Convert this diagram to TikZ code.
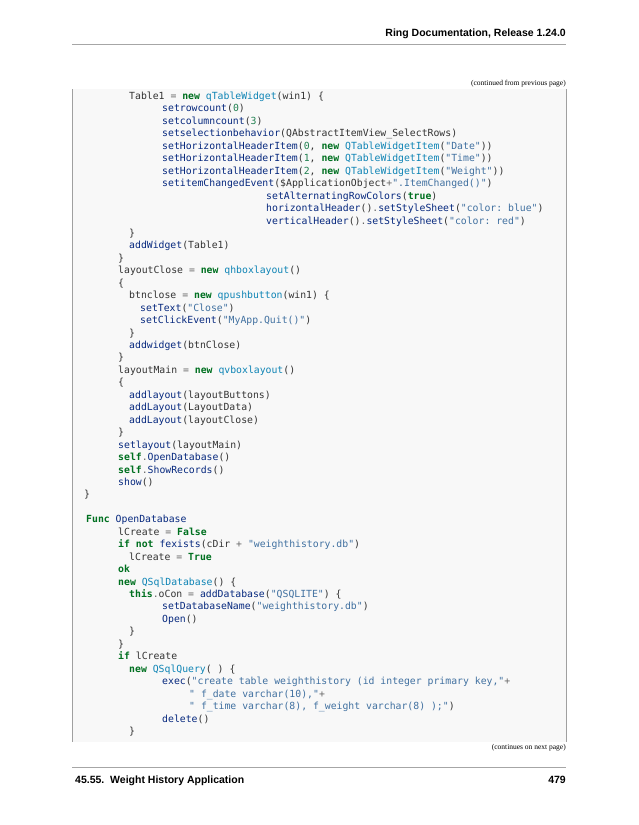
\documentclass[tikz,border=0pt]{standalone}
\usepackage{fontspec}
\setmainfont{Liberation Serif}
\setsansfont{Liberation Sans}
\setmonofont{DejaVu Sans Mono}
\definecolor{kw}{HTML}{007020}
\definecolor{fn}{HTML}{06287E}
\definecolor{cls}{HTML}{0E84B5}
\definecolor{str}{HTML}{4070A0}
\definecolor{num}{HTML}{208050}
\definecolor{op}{HTML}{666666}
\definecolor{txt}{HTML}{333333}
\definecolor{codebg}{HTML}{F8F8F8}
\definecolor{bord}{HTML}{A0A0A0}
\newcommand\K[1]{\textcolor{kw}{\bfseries #1}}
\newcommand\F[1]{\textcolor{fn}{#1}}
\newcommand\C[1]{\textcolor{cls}{#1}}
\newcommand\Sx[1]{\textcolor{str}{#1}}
\newcommand\Nx[1]{\textcolor{num}{#1}}
\newcommand\Ox[1]{\textcolor{op}{#1}}
\newcommand\codeln[3]{\node[codetxt] (l#1) at (#2, {-(99.5+12.45*(#1-1))}) {#3};}
\begin{document}
\begin{tikzpicture}[x=1pt,y=1pt,
  codetxt/.style={anchor=base west,inner sep=0pt,font=\fontsize{9.8}{11}\ttfamily,text=txt},
  small/.style={inner sep=0pt,font=\fontsize{7.5}{9}\selectfont},
  hdr/.style={inner sep=0pt,font=\fontsize{10.5}{12}\sffamily\bfseries}]
\useasboundingbox (0,0) rectangle (638,-825);
\node[hdr,anchor=base east] (head) at (566,-36) {Ring Documentation, Release 1.24.0};
\draw[gray!70,line width=0.6pt] (72,-44) -- (566,-44);
\node[small,anchor=base east] (cont) at (566,-85) {(continued from previous page)};
\fill[codebg] (72,-89) rectangle (566,-742);
\draw[bord,line width=1pt] (72,-89) -- (72,-742);
\draw[bord,line width=1pt] (566,-89) -- (566,-742);
\codeln{1}{129}{Table1 \Ox{=} \K{new} \C{qTableWidget}(win1) \{}
\codeln{2}{162}{\F{setrowcount}(\Nx{0})}
\codeln{3}{162}{\F{setcolumncount}(\Nx{3})}
\codeln{4}{162}{\F{setselectionbehavior}(QAbstractItemView\_SelectRows)}
\codeln{5}{162}{\F{setHorizontalHeaderItem}(\Nx{0}, \K{new} \C{QTableWidgetItem}(\Sx{"Date"}))}
\codeln{6}{162}{\F{setHorizontalHeaderItem}(\Nx{1}, \K{new} \C{QTableWidgetItem}(\Sx{"Time"}))}
\codeln{7}{162}{\F{setHorizontalHeaderItem}(\Nx{2}, \K{new} \C{QTableWidgetItem}(\Sx{"Weight"}))}
\codeln{8}{162}{\F{setitemChangedEvent}(\textdollar ApplicationObject\Ox{+}\Sx{".ItemChanged()"})}
\codeln{9}{266}{\F{setAlternatingRowColors}(\K{true})}
\codeln{10}{266}{\F{horizontalHeader}()\Ox{.}\F{setStyleSheet}(\Sx{"color: blue"})}
\codeln{11}{266}{\F{verticalHeader}()\Ox{.}\F{setStyleSheet}(\Sx{"color: red"})}
\codeln{12}{129}{\}}
\codeln{13}{129}{\F{addWidget}(Table1)}
\codeln{14}{118}{\}}
\codeln{15}{118}{layoutClose \Ox{=} \K{new} \C{qhboxlayout}()}
\codeln{16}{118}{\{}
\codeln{17}{129}{btnclose \Ox{=} \K{new} \C{qpushbutton}(win1) \{}
\codeln{18}{140}{\F{setText}(\Sx{"Close"})}
\codeln{19}{140}{\F{setClickEvent}(\Sx{"MyApp.Quit()"})}
\codeln{20}{129}{\}}
\codeln{21}{129}{\F{addwidget}(btnClose)}
\codeln{22}{118}{\}}
\codeln{23}{118}{layoutMain \Ox{=} \K{new} \C{qvboxlayout}()}
\codeln{24}{118}{\{}
\codeln{25}{129}{\F{addlayout}(layoutButtons)}
\codeln{26}{129}{\F{addLayout}(LayoutData)}
\codeln{27}{129}{\F{addLayout}(layoutClose)}
\codeln{28}{118}{\}}
\codeln{29}{118}{\F{setlayout}(layoutMain)}
\codeln{30}{118}{\K{self}\Ox{.}\F{OpenDatabase}()}
\codeln{31}{118}{\K{self}\Ox{.}\F{ShowRecords}()}
\codeln{32}{118}{\F{show}()}
\codeln{33}{84}{\}}
\codeln{35}{86}{\K{Func} \F{OpenDatabase}}
\codeln{36}{118}{lCreate \Ox{=} \K{False}}
\codeln{37}{118}{\K{if} \K{not} \F{fexists}(cDir \Ox{+} \Sx{"weighthistory.db"})}
\codeln{38}{129}{lCreate \Ox{=} \K{True}}
\codeln{39}{118}{\K{ok}}
\codeln{40}{118}{\K{new} \C{QSqlDatabase}() \{}
\codeln{41}{129}{\K{this}\Ox{.}oCon \Ox{=} \F{addDatabase}(\Sx{"QSQLITE"}) \{}
\codeln{42}{162}{\F{setDatabaseName}(\Sx{"weighthistory.db"})}
\codeln{43}{162}{\F{Open}()}
\codeln{44}{129}{\}}
\codeln{45}{118}{\}}
\codeln{46}{118}{\K{if} lCreate}
\codeln{47}{129}{\K{new} \C{QSqlQuery}( ) \{}
\codeln{48}{162}{\F{exec}(\Sx{"create table weighthistory (id integer primary key,"}\Ox{+}}
\codeln{49}{189}{\Sx{" f\_date varchar(10),"}\Ox{+}}
\codeln{50}{189}{\Sx{" f\_time varchar(8), f\_weight varchar(8) );"})}
\codeln{51}{162}{\F{delete}()}
\codeln{52}{129}{\}}
\node[small,anchor=base east] (next) at (566,-749) {(continues on next page)};
\draw[gray!70,line width=0.6pt] (72,-767) -- (566,-767);
\node[hdr,anchor=base west] (foot) at (75,-783) {45.55.\ \ Weight History Application};
\node[hdr,anchor=base east] (page) at (566,-783) {479};
\end{tikzpicture}
\end{document}
